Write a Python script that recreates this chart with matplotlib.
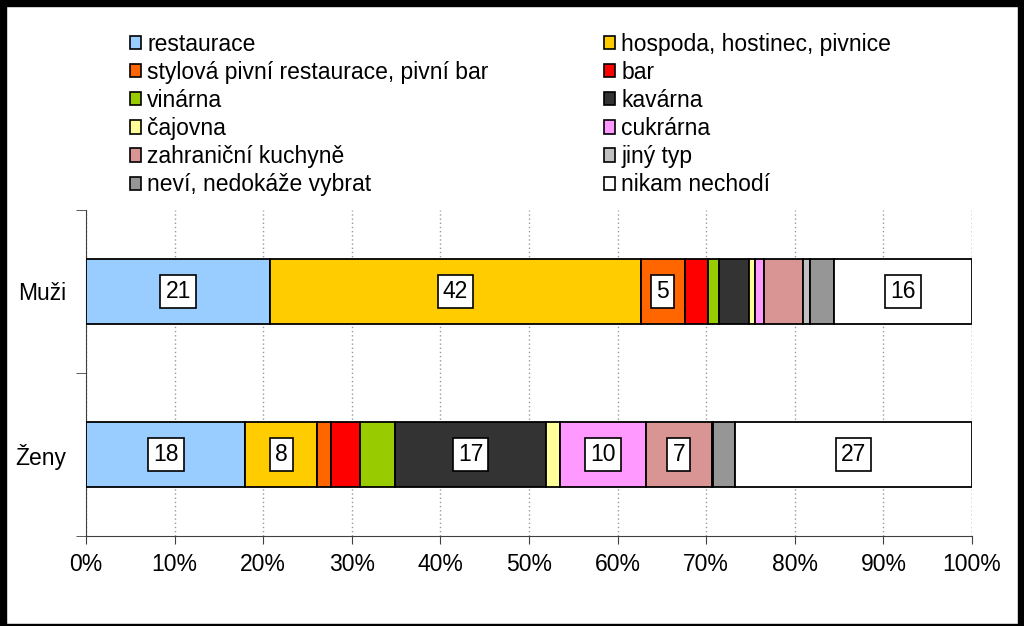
import matplotlib.pyplot as plt
from matplotlib.patches import Rectangle
import numpy as np

groups = ["Muži", "Ženy"]

categories = [
    "restaurace",
    "hospoda, hostinec, pivnice",
    "stylová pivní restaurace, pivní bar",
    "bar",
    "vinárna",
    "kavárna",
    "čajovna",
    "cukrárna",
    "zahraniční kuchyně",
    "jiný typ",
    "neví, nedokáže vybrat",
    "nikam nechodí",
]

muzi = [20.8, 41.8, 5.0, 2.6, 1.2, 3.4, 0.7, 1.0, 4.4, 0.8, 2.7, 15.6]
zeny = [18.0, 8.1, 1.6, 3.2, 4.0, 17.0, 1.6, 9.7, 7.4, 0.2, 2.4, 26.8]

colors = [
    "#99ccff", "#ffcc00", "#ff6600", "#ff0000", "#99cc00", "#333333",
    "#ffff99", "#ff99ff", "#d99594", "#c0c0c0", "#969696", "#ffffff",
]

plt.rcParams["font.family"] = ["Liberation Sans", "DejaVu Sans"]
FS = 16.5

fig = plt.figure(figsize=(10.24, 6.26), dpi=100)
ax = fig.add_axes([86 / 1024, 1 - 536 / 626, 886 / 1024, 326 / 626])

values = np.array([muzi, zeny])
y = np.arange(len(groups))
left = np.zeros(len(groups))

handles = []
for i, cat in enumerate(categories):
    bars = ax.barh(
        y, values[:, i], left=left, height=0.4,
        color=colors[i], edgecolor="black", linewidth=1.3,
        label=cat, zorder=3
    )
    handles.append(bars)
    for j, v in enumerate(values[:, i]):
        if round(v) >= 5:
            ax.text(
                left[j] + v / 2, y[j], f"{round(v):d}",
                ha="center", va="center", fontsize=FS, zorder=4,
                bbox=dict(boxstyle="square,pad=0.22", fc="white",
                          ec="black", lw=1.2)
            )
    left = left + values[:, i]

ax.set_xlim(0, 100)
ax.set_ylim(1.5, -0.5)
ax.set_xticks(np.arange(0, 101, 10))
ax.set_xticklabels([f"{t}%" for t in range(0, 101, 10)], fontsize=FS)
ax.set_yticks(y)
ax.set_yticklabels(groups, fontsize=FS)
ax.set_yticks([-0.5, 0.5, 1.5], minor=True)
ax.tick_params(axis="y", which="major", length=0, pad=14)
ax.tick_params(axis="y", which="minor", length=7, color="#404040")
ax.tick_params(axis="x", length=6, color="#404040", pad=6)

ax.grid(axis="x", linestyle=(0, (1, 2)), color="#999999", linewidth=1, zorder=0)
ax.spines["top"].set_visible(False)
ax.spines["right"].set_visible(False)
ax.spines["left"].set_color("#404040")
ax.spines["bottom"].set_color("#404040")
ax.axvline(100, linestyle=(0, (1, 2)), color="#999999", linewidth=1, zorder=0)

# legend in two columns, filled row by row
leg_kw = dict(
    loc="upper left", frameon=False, fontsize=FS,
    handlelength=0.5, handleheight=0.5, handletextpad=0.25,
    labelspacing=0.22, borderpad=0, borderaxespad=0,
)
leg1 = fig.legend(handles[0::2], categories[0::2],
                  bbox_to_anchor=(130 / 1024, 1 - 33 / 626), **leg_kw)
leg2 = fig.legend(handles[1::2], categories[1::2],
                  bbox_to_anchor=(604 / 1024, 1 - 33 / 626), **leg_kw)
for leg in (leg1, leg2):
    for h in leg.legend_handles:
        h.set_linewidth(1.2)

# black frame around the picture
for (x0, y0, w, h) in [(0, 0, 6 / 1024, 1), (0, 1 - 6 / 626, 1, 6 / 626),
                       (1 - 6 / 1024, 0, 6 / 1024, 1), (0, 0, 1, 2 / 626)]:
    fig.patches.append(Rectangle((x0, y0), w, h, transform=fig.transFigure,
                                 color="black", zorder=10))

fig.savefig("out.png", dpi=100)
